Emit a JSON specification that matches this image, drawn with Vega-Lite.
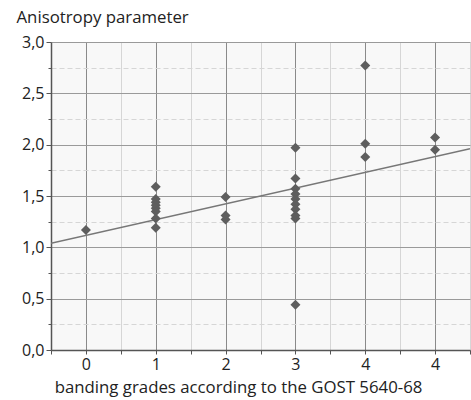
{
  "$schema": "https://vega.github.io/schema/vega-lite/v6.json",
  "width": 419,
  "height": 308,
  "autosize": {"type": "none"},
  "padding": {"left": 51, "top": 42, "right": 1, "bottom": 50},
  "background": "white",
  "view": {"fill": "#f8f8f8", "stroke": null},
  "config": {
    "font": "Open Sans",
    "axis": {"labelFont": "Open Sans", "titleFont": "Open Sans", "labelColor": "#222", "titleColor": "#222", "titleFontWeight": "normal", "labelOverlap": false}
  },
  "datasets": {
    "points": [
      {"grade": 0, "k": 1.17},
      {"grade": 1, "k": 1.59}, {"grade": 1, "k": 1.47}, {"grade": 1, "k": 1.44}, {"grade": 1, "k": 1.41},
      {"grade": 1, "k": 1.38}, {"grade": 1, "k": 1.35}, {"grade": 1, "k": 1.28}, {"grade": 1, "k": 1.19},
      {"grade": 2, "k": 1.49}, {"grade": 2, "k": 1.31}, {"grade": 2, "k": 1.27},
      {"grade": 3, "k": 1.97}, {"grade": 3, "k": 1.67}, {"grade": 3, "k": 1.57}, {"grade": 3, "k": 1.52},
      {"grade": 3, "k": 1.47}, {"grade": 3, "k": 1.42}, {"grade": 3, "k": 1.37}, {"grade": 3, "k": 1.31},
      {"grade": 3, "k": 1.28}, {"grade": 3, "k": 0.44},
      {"grade": 4, "k": 2.77}, {"grade": 4, "k": 2.01}, {"grade": 4, "k": 1.88},
      {"grade": 5, "k": 2.07}, {"grade": 5, "k": 1.95}
    ],
    "trend": [
      {"grade": -0.5, "k": 1.04},
      {"grade": 5.5, "k": 1.96}
    ]
  },
  "layer": [
    {
      "data": {"name": "trend"},
      "mark": {"type": "line", "color": "#777", "strokeWidth": 1.5, "clip": true},
      "encoding": {
        "x": {
          "field": "grade", "type": "quantitative",
          "scale": {"domain": [-0.5, 5.5], "nice": false, "zero": false},
          "axis": {
            "values": [-0.5, 0, 0.5, 1, 1.5, 2, 2.5, 3, 3.5, 4, 4.5, 5, 5.5],
            "tickCount": 40,
            "labelExpr": "abs(datum.value % 1) < 0.01 ? (datum.value === 5 ? '4' : format(datum.value, 'd')) : ''",
            "labelFontSize": 16,
            "labelPadding": 2,
            "domainColor": "#555",
            "domainWidth": 1.5,
            "tickColor": "#555",
            "tickSize": 4,
            "gridColor": {"condition": {"test": "abs(datum.value % 1) < 0.01", "value": "#8a8a8a"}, "value": "#d6d6d6"},
            "gridWidth": 1,
            "title": "banding grades according to the GOST 5640-68",
            "titleFontSize": 16.8,
            "titleX": 187,
            "titleY": 42,
            "titleBaseline": "alphabetic",
            "titleAlign": "center"
          }
        },
        "y": {
          "field": "k", "type": "quantitative",
          "scale": {"domain": [0, 3], "nice": false},
          "axis": {
            "values": [0, 0.25, 0.5, 0.75, 1, 1.25, 1.5, 1.75, 2, 2.25, 2.5, 2.75, 3],
            "tickCount": 40,
            "labelExpr": "abs((datum.value * 2) % 1) < 0.01 ? replace(format(datum.value, '.1f'), '.', ',') : ''",
            "labelFontSize": 16,
            "labelPadding": 2,
            "domainColor": "#555",
            "domainWidth": 1.5,
            "tickColor": "#555",
            "tickSize": {"condition": {"test": "abs((datum.value * 2) % 1) < 0.01", "value": 5}, "value": 3},
            "gridColor": {"condition": {"test": "abs((datum.value * 2) % 1) < 0.01", "value": "#9a9a9a"}, "value": "#d6d6d6"},
            "gridDash": {"condition": {"test": "abs((datum.value * 2) % 1) < 0.01", "value": []}, "value": [5, 3]},
            "gridWidth": 1,
            "title": "Anisotropy parameter",
            "titleFontSize": 16.8,
            "titleAngle": 0,
            "titleAlign": "left",
            "titleBaseline": "alphabetic",
            "titleX": -35,
            "titleY": -20
          }
        }
      }
    },
    {
      "data": {"name": "points"},
      "mark": {"type": "point", "shape": "diamond", "filled": true, "size": 100, "color": "#5e5e5e", "opacity": 1},
      "encoding": {
        "x": {"field": "grade", "type": "quantitative"},
        "y": {"field": "k", "type": "quantitative"}
      }
    }
  ]
}
